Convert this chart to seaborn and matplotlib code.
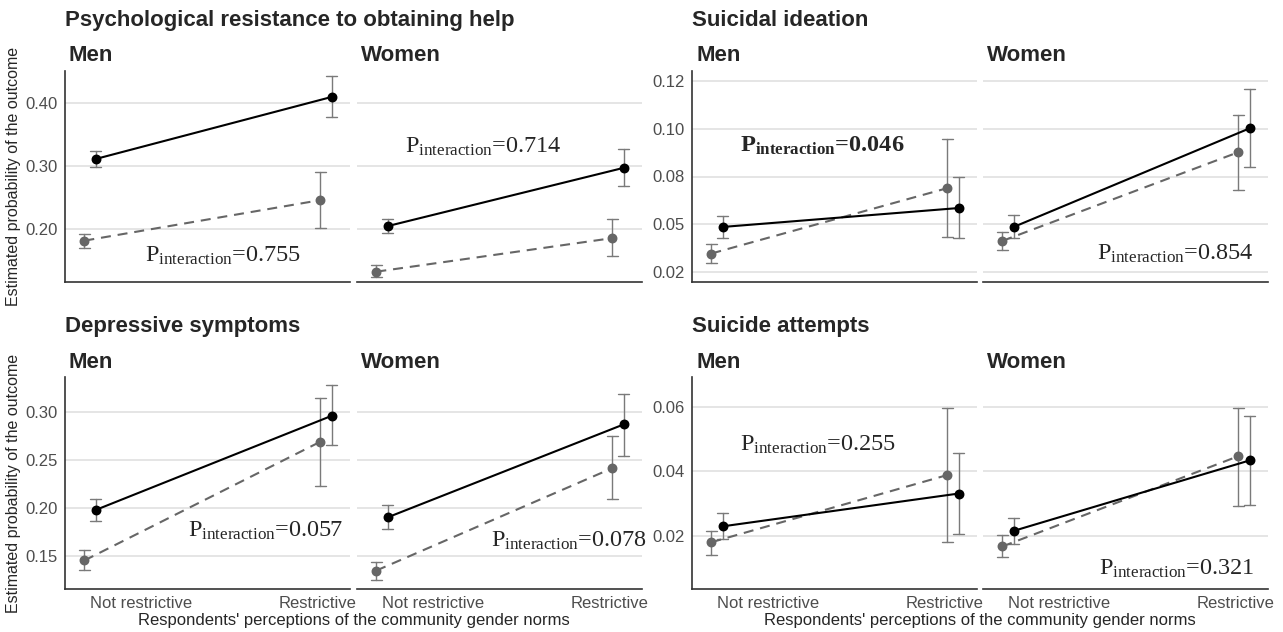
import pandas as pd
import seaborn as sns
import matplotlib.pyplot as plt
from matplotlib.transforms import blended_transform_factory

sns.set_style("white")
plt.rcParams['font.family'] = ['Liberation Sans', 'DejaVu Sans']
plt.rcParams['mathtext.fontset'] = 'custom'
plt.rcParams['mathtext.rm'] = 'Liberation Serif'
plt.rcParams['mathtext.it'] = 'Liberation Serif:italic'
plt.rcParams['mathtext.bf'] = 'Liberation Serif:bold'

# categories
sexes = ["Men", "Women"]
norms = ["Not restrictive", "Restrictive"]
series = ["dashed", "solid"]

# order inside each list: Men/Not restrictive, Men/Restrictive, Women/Not restrictive, Women/Restrictive
psych_solid_est = [0.311, 0.409, 0.205, 0.297]
psych_solid_lo = [0.298, 0.377, 0.194, 0.268]
psych_solid_hi = [0.323, 0.442, 0.216, 0.327]
psych_dashed_est = [0.182, 0.246, 0.133, 0.186]
psych_dashed_lo = [0.170, 0.202, 0.125, 0.157]
psych_dashed_hi = [0.192, 0.291, 0.143, 0.216]

ideation_solid_est = [0.0486, 0.0585, 0.0486, 0.1002]
ideation_solid_lo = [0.0429, 0.0427, 0.0427, 0.0800]
ideation_solid_hi = [0.0543, 0.0745, 0.0549, 0.1207]
ideation_dashed_est = [0.0347, 0.0689, 0.0413, 0.0877]
ideation_dashed_lo = [0.0295, 0.0436, 0.0365, 0.0681]
ideation_dashed_hi = [0.0399, 0.0946, 0.0462, 0.1071]

depress_solid_est = [0.1976, 0.296, 0.1899, 0.287]
depress_solid_lo = [0.1864, 0.265, 0.178, 0.2545]
depress_solid_hi = [0.2087, 0.3283, 0.2024, 0.319]
depress_dashed_est = [0.1448, 0.2689, 0.1343, 0.2413]
depress_dashed_lo = [0.1346, 0.223, 0.1245, 0.2087]
depress_dashed_hi = [0.1556, 0.3147, 0.143, 0.275]

attempts_solid_est = [0.0231, 0.0332, 0.0217, 0.0434]
attempts_solid_lo = [0.0192, 0.0207, 0.0177, 0.0298]
attempts_solid_hi = [0.0271, 0.0456, 0.0257, 0.057]
attempts_dashed_est = [0.0182, 0.0389, 0.0169, 0.0447]
attempts_dashed_lo = [0.0144, 0.0183, 0.0137, 0.0295]
attempts_dashed_hi = [0.0217, 0.0594, 0.0203, 0.0595]

# interaction p-values (men, women)
p_psych = ["0.755", "0.714"]
p_ideation = ["0.046", "0.854"]
p_depress = ["0.057", "0.078"]
p_attempts = ["0.255", "0.321"]


def long_table(solid, dashed):
    rows = []
    for name, (est, lo, hi) in (("solid", solid), ("dashed", dashed)):
        for i in range(4):
            for v in (lo[i], est[i], hi[i]):
                rows.append({"sex": sexes[i // 2], "norm": norms[i % 2],
                             "series": name, "value": v})
    return pd.DataFrame(rows)


panels = [
    dict(title="Psychological resistance to obtaining help",
         df=long_table((psych_solid_est, psych_solid_lo, psych_solid_hi),
                       (psych_dashed_est, psych_dashed_lo, psych_dashed_hi)),
         yticks=[0.2, 0.3, 0.4], ylabels=["0.20", "0.30", "0.40"],
         ylim=(0.1167, 0.45), p=p_psych, bold=False,
         txt=[(0.28, 0.149), (0.168, 0.321)], col=0, row=0),
    dict(title="Suicidal ideation",
         df=long_table((ideation_solid_est, ideation_solid_lo, ideation_solid_hi),
                       (ideation_dashed_est, ideation_dashed_lo, ideation_dashed_hi)),
         yticks=[0.025, 0.05, 0.075, 0.1, 0.125],
         ylabels=["0.02", "0.05", "0.08", "0.10", "0.12"],
         ylim=(0.0198, 0.1302), p=p_ideation, bold=True,
         txt=[(0.167, 0.0878), (0.40, 0.0313)], col=1, row=0),
    dict(title="Depressive symptoms",
         df=long_table((depress_solid_est, depress_solid_lo, depress_solid_hi),
                       (depress_dashed_est, depress_dashed_lo, depress_dashed_hi)),
         yticks=[0.15, 0.2, 0.25, 0.3], ylabels=["0.15", "0.20", "0.25", "0.30"],
         ylim=(0.115, 0.3366), p=p_depress, bold=False,
         txt=[(0.433, 0.1696), (0.469, 0.159)], col=0, row=1),
    dict(title="Suicide attempts",
         df=long_table((attempts_solid_est, attempts_solid_lo, attempts_solid_hi),
                       (attempts_dashed_est, attempts_dashed_lo, attempts_dashed_hi)),
         yticks=[0.02, 0.04, 0.06], ylabels=["0.02", "0.04", "0.06"],
         ylim=(0.0038, 0.0691), p=p_attempts, bold=False,
         txt=[(0.167, 0.0463), (0.407, 0.0082)], col=1, row=1),
]

W, H = 1283, 632
fig = plt.figure(figsize=(W / 100, H / 100), dpi=100)

col_x = [[(65, 350), (357, 642)], [(692, 977), (983, 1268)]]
row_y = [(71, 282), (377, 589)]
title_y = [20.7, 326.7]
strip_y = [55.7, 362]
# where the category labels sit under each panel (label centres, in category units)
xlabel_pos = [0.216, 0.966]

for pan in panels:
    c, r = pan["col"], pan["row"]
    y0, y1 = row_y[r]
    fig.text(col_x[c][0][0] / W, 1 - title_y[r] / H, pan["title"],
             fontsize=16, fontweight="bold", va="center", ha="left")
    for k, sex in enumerate(sexes):
        x0, x1 = col_x[c][k]
        ax = fig.add_axes([x0 / W, 1 - y1 / H, (x1 - x0) / W, (y1 - y0) / H])
        sub = pan["df"][pan["df"]["sex"] == sex]
        sns.pointplot(data=sub, x="norm", y="value", hue="series",
                      order=norms, hue_order=series,
                      estimator="median", errorbar=("pi", 100),
                      dodge=0.048, capsize=0.045,
                      palette={"dashed": "#666666", "solid": "black"},
                      markers="o", linestyles=[(0, (4.8, 3.3)), "-"],
                      err_kws={"color": "#7a7a7a", "linewidth": 1.0, "zorder": 1.5},
                      legend=False, ax=ax, markersize=6, linewidth=1.5)
        ax.set_xlim(-0.106, 1.102)
        ax.set_ylim(*pan["ylim"])
        ax.set_yticks(pan["yticks"])
        ax.set_yticklabels(pan["ylabels"])
        ax.set_xticks(xlabel_pos)
        ax.set_xticklabels(norms)
        ax.set_xlabel("")
        ax.set_ylabel("")
        ax.grid(axis="y", color="#dedede", linewidth=1.1)
        ax.grid(axis="x", visible=False)
        ax.set_axisbelow(True)
        sns.despine(ax=ax, left=(k == 1))
        for s in ("left", "bottom"):
            ax.spines[s].set_color("#333333")
            ax.spines[s].set_linewidth(1.2)
        ax.tick_params(axis="y", length=3, width=0.8, color="#333333",
                       labelsize=12, labelcolor="#4d4d4d", pad=2)
        if k == 1:
            ax.tick_params(axis="y", left=False, labelleft=False)
        if r == 0:
            ax.tick_params(axis="x", bottom=False, labelbottom=False)
        else:
            ax.tick_params(axis="x", length=0, labelsize=12,
                           labelcolor="#4d4d4d", pad=5)
        fig.text((x0 + 4) / W, 1 - strip_y[r] / H, sex, fontsize=16,
                 fontweight="bold", va="center", ha="left")
        tx, ty = pan["txt"][k]
        trans = blended_transform_factory(ax.transAxes, ax.transData)
        if pan["bold"] and k == 0:
            label = r"$\mathbf{P}_{\mathbf{interaction}}$=" + pan["p"][k]
            weight = "bold"
        else:
            label = r"$\mathrm{P}_{\mathrm{interaction}}$=" + pan["p"][k]
            weight = "normal"
        ax.text(tx, ty, label, transform=trans, fontsize=17.5, fontweight=weight,
                family="Liberation Serif", ha="left", va="baseline")

# axis titles
for r in range(2):
    y0, y1 = row_y[r]
    fig.text(14 / W, 1 - (y0 + y1) / 2 / H, "Estimated probability of the outcome",
             rotation=90, fontsize=11.5, va="center", ha="center")
for c in range(2):
    xc = (col_x[c][0][0] + col_x[c][1][1]) / 2
    fig.text(xc / W, 1 - 620 / H, "Respondents' perceptions of the community gender norms",
             fontsize=12, va="center", ha="center")

fig.savefig("out.png", dpi=100)
